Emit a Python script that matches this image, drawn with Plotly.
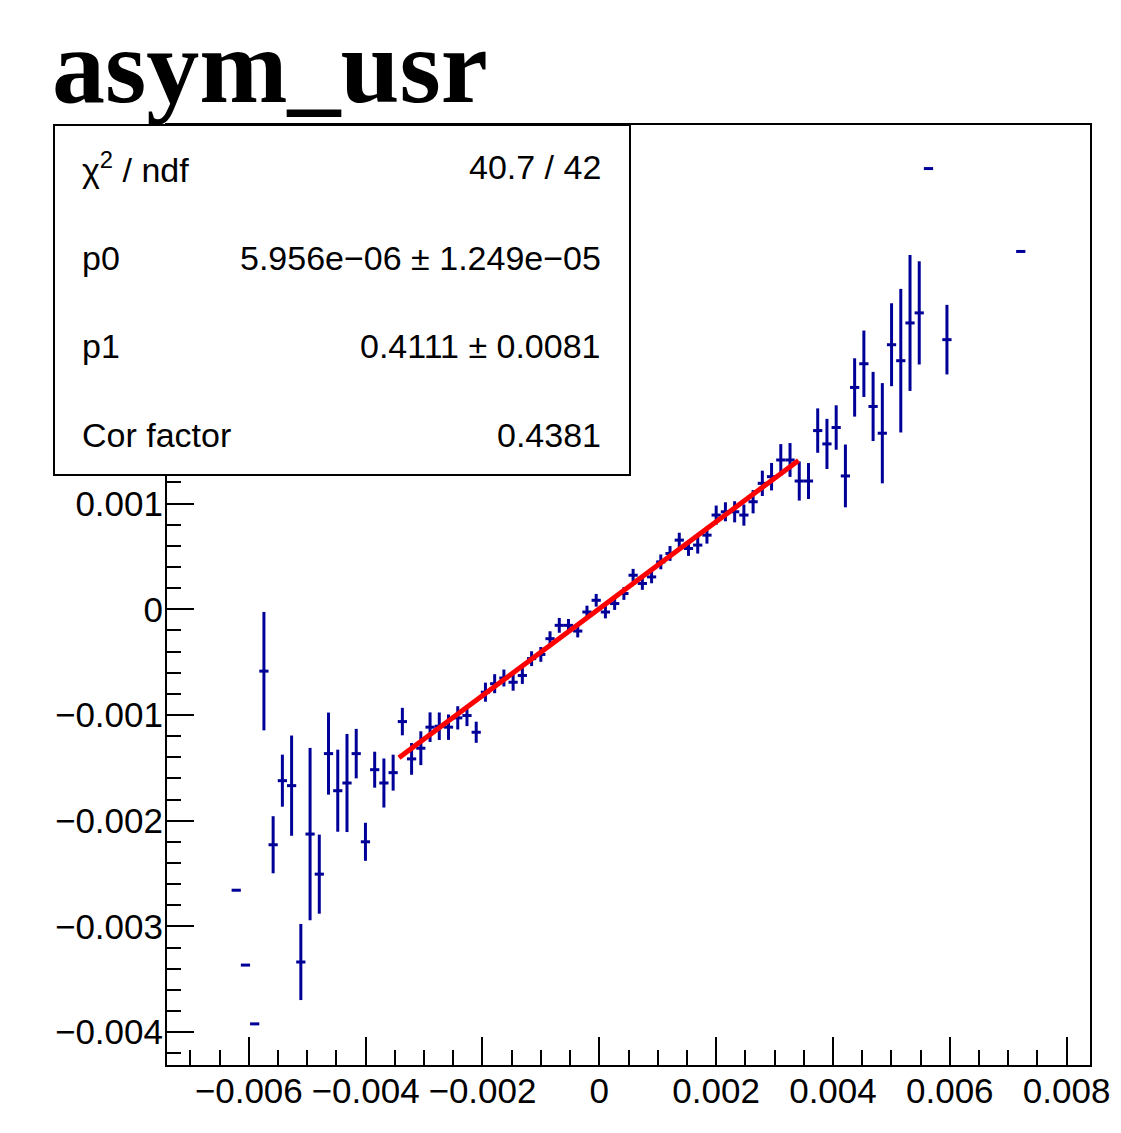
import plotly.graph_objects as go

# ---- data (profile bins) ----
x_centers = [
    -0.006215, -0.006057, -0.005899, -0.005741, -0.005583, -0.005425, -0.005267,
    -0.005109, -0.004951, -0.004793, -0.004635, -0.004477, -0.004319, -0.004161,
    -0.004003, -0.003845, -0.003687, -0.003529, -0.003371, -0.003213, -0.003055,
    -0.002897, -0.002739, -0.002581, -0.002423, -0.002265, -0.002107, -0.001949,
    -0.001791, -0.001633, -0.001475, -0.001317, -0.001159, -0.001001, -0.000843,
    -0.000685, -0.000527, -0.000369, -0.000211, -0.000053, 0.000105, 0.000263,
    0.000421, 0.000579, 0.000737, 0.000895, 0.001053, 0.001211, 0.001369,
    0.001527, 0.001685, 0.001843, 0.002001, 0.002159, 0.002317, 0.002475,
    0.002633, 0.002791, 0.002949, 0.003107, 0.003265, 0.003423, 0.003581,
    0.003739, 0.003897, 0.004055, 0.004213, 0.004371, 0.004529, 0.004687,
    0.004845, 0.005003, 0.005161, 0.005319, 0.005477, 0.005635, 0.005951,
    0.007215,
]
y_means = [
    -0.002657, -0.003365, -0.003921, -0.000585, -0.002227, -0.001621, -0.001668,
    -0.003336, -0.002126, -0.002505, -0.001365, -0.001716, -0.001643, -0.001365,
    -0.002199, -0.001517, -0.001643, -0.001545, -0.001062, -0.001415, -0.001314,
    -0.001115, -0.001106, -0.001115, -0.001027, -0.001005, -0.001163, -0.000784,
    -0.000704, -0.000650, -0.000690, -0.000626, -0.000467, -0.000427, -0.000278,
    -0.000152, -0.000152, -0.000206, -0.000026, 0.000085, -0.000026, 0.000054,
    0.000149, 0.000322, 0.000244, 0.000306, 0.000448, 0.000528, 0.000654,
    0.000575, 0.000607, 0.000701, 0.000891, 0.000922, 0.000922, 0.000891,
    0.001017, 0.001191, 0.001254, 0.001412, 0.001412, 0.001213, 0.001213,
    0.001690, 0.001564, 0.001719, 0.001261, 0.002098, 0.002322, 0.001918,
    0.001665, 0.002502, 0.002351, 0.002708, 0.002803, 0.004168, 0.002550,
    0.003384,
]
y_errors = [
    0.0, 0.0, 0.0, 0.00056, 0.00027, 0.000246, 0.000474,
    0.00036, 0.000815, 0.000374, 0.000388, 0.000388, 0.000464, 0.000234,
    0.00018, 0.00017, 0.000232, 0.00017, 0.00013, 0.00015, 0.00016,
    0.00014, 0.00013, 0.00012, 0.00011, 0.0001, 0.0001, 0.00009,
    0.00009, 0.00008, 0.00008, 0.00008, 0.00007, 0.00007, 0.00007,
    0.00007, 0.00006, 0.00006, 0.00006, 0.00006, 0.00006, 0.00006,
    0.00006, 0.00006, 0.00006, 0.00006, 0.00007, 0.00007, 0.00007,
    0.00007, 0.00008, 0.00008, 0.00009, 0.00009, 0.0001, 0.0001,
    0.00011, 0.00012, 0.00013, 0.00015, 0.00016, 0.000185, 0.00017,
    0.00021, 0.000237, 0.00021, 0.000297, 0.000276, 0.000314, 0.000327,
    0.000474, 0.000392, 0.000679, 0.000643, 0.000488, 0.0, 0.000329,
    0.0,
]
bin_half_width = 0.000079

# fit result
p0 = 5.956e-06
p1 = 0.4111
fit_range = [-0.00343, 0.00341]

x_tick_vals = [-0.006, -0.004, -0.002, 0.0, 0.002, 0.004, 0.006, 0.008]
x_tick_text = ["\u22120.006", "\u22120.004", "\u22120.002", "0", "0.002", "0.004", "0.006", "0.008"]
y_tick_vals = [-0.004, -0.003, -0.002, -0.001, 0.0, 0.001]
y_tick_text = ["\u22120.004", "\u22120.003", "\u22120.002", "\u22120.001", "0", "0.001"]

stats_labels = ["\u03c7<sup>2</sup> / ndf", "p0", "p1", "Cor factor"]
stats_values = ["40.7 / 42", "5.956e\u221206 \u00b1 1.249e\u221205", "0.4111 \u00b1 0.0081", "0.4381"]

BLUE = "#000099"
FONT = "Liberation Sans"

fig = go.Figure()
fig.add_trace(go.Scatter(
    x=x_centers, y=y_means, mode="markers",
    marker=dict(size=1, color=BLUE),
    error_x=dict(type="data", array=[bin_half_width] * len(x_centers), symmetric=True,
                 width=0, thickness=3, color=BLUE),
    error_y=dict(type="data", array=y_errors, symmetric=True,
                 width=0, thickness=3, color=BLUE),
    showlegend=False, hoverinfo="skip",
))
fit_x = fit_range
fit_y = [p0 + p1 * v for v in fit_x]
fig.add_trace(go.Scatter(
    x=fit_x, y=fit_y, mode="lines",
    line=dict(color="#ff0000", width=5), showlegend=False,
))

axis_common = dict(
    showline=True, linewidth=2, linecolor="black", mirror=True,
    showgrid=False, zeroline=False, ticks="inside", tickwidth=2, tickcolor="black",
    tickfont=dict(family=FONT, size=35, color="black"),
)
fig.update_xaxes(
    range=[-0.0074, 0.0084], tickmode="array", tickvals=x_tick_vals, ticktext=x_tick_text,
    ticklen=28, ticklabelstandoff=-6,
    minor=dict(tick0=0, dtick=0.0005, ticks="inside", ticklen=15, tickwidth=2, tickcolor="black"),
    **axis_common,
)
fig.update_yaxes(
    range=[-0.00431, 0.00458], tickmode="array", tickvals=y_tick_vals, ticktext=y_tick_text,
    ticklen=27, ticklabelstandoff=-5,
    minor=dict(tick0=0, dtick=0.0002, ticks="inside", ticklen=14, tickwidth=2, tickcolor="black"),
    **axis_common,
)

# the page adds an 8px body margin, so the figure is offset by 8px
OFF = 8
W, H = 1121 - OFF, 1133 - OFF
L, R, T, B = 167 - OFF, 31, 125 - OFF, 68
pw, ph = W - L - R, H - T - B


def px_x(p):
    return (p - OFF - L) / pw


def px_y(p):
    return (H - B - (p - OFF)) / ph


fig.add_shape(type="rect", xref="paper", yref="paper",
              x0=px_x(54), x1=px_x(630), y0=px_y(475), y1=px_y(125),
              fillcolor="white", line=dict(color="black", width=2), layer="above")

row_y = [167, 258, 346, 435]
annotations = []
for lab, val, ry in zip(stats_labels, stats_values, row_y):
    annotations.append(dict(text=lab, xref="paper", yref="paper", x=px_x(80), y=px_y(ry),
                            xanchor="left", yanchor="middle", showarrow=False,
                            font=dict(family=FONT, size=34, color="black")))
    annotations.append(dict(text=val, xref="paper", yref="paper", x=px_x(603), y=px_y(ry),
                            xanchor="right", yanchor="middle", showarrow=False,
                            font=dict(family=FONT, size=34, color="black")))
annotations.append(dict(text="<b>asym_usr</b>", xref="paper", yref="paper",
                        x=px_x(50), y=px_y(66), xanchor="left", yanchor="middle",
                        showarrow=False,
                        font=dict(family="Liberation Serif", size=106, color="black")))

fig.update_layout(
    width=W, height=H,
    margin=dict(l=L, r=R, t=T, b=B, autoexpand=False),
    plot_bgcolor="white", paper_bgcolor="white",
    annotations=annotations, showlegend=False,
)

fig.write_html("out.html")
